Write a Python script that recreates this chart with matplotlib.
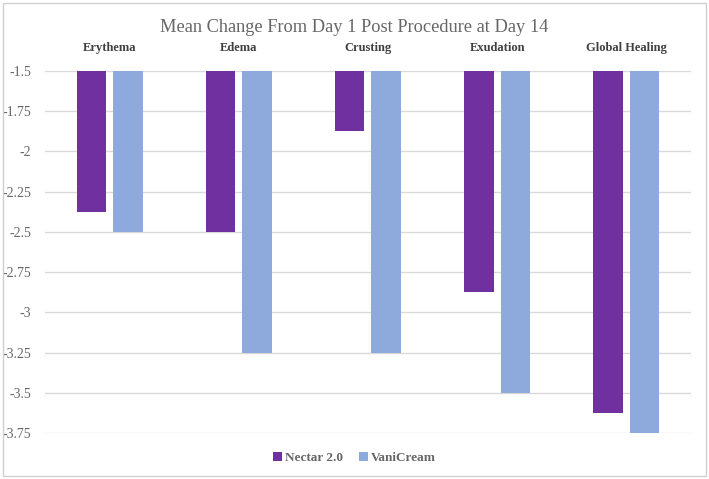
import matplotlib.pyplot as plt
import numpy as np
from matplotlib.patches import Rectangle

# data
categories = ['Erythema', 'Edema', 'Crusting', 'Exudation', 'Global Healing']
nectar = [-2.375, -2.5, -1.875, -2.875, -3.625]
vanicream = [-2.5, -3.25, -3.25, -3.5, -3.75]
yticks = [-1.5, -1.75, -2, -2.25, -2.5, -2.75, -3, -3.25, -3.5, -3.75]
ytick_labels = ['-1.5', '-1.75', '-2', '-2.25', '-2.5', '-2.75', '-3', '-3.25', '-3.5', '-3.75']

base = -1.5
purple = '#7030A0'
blue = '#8EA9DB'
grey = '#666666'

plt.rcParams['font.family'] = ['Liberation Serif', 'DejaVu Serif']

fig = plt.figure(figsize=(7.09, 4.79), dpi=100)
ax = fig.add_axes([0.0635, 0.096, 0.911, 0.756])

x = np.arange(len(categories))
w = 0.228
gap = 0.054
ax.bar(x - (w + gap) / 2, np.array(nectar) - base, bottom=base, width=w,
       color=purple, label='Nectar 2.0', zorder=3)
ax.bar(x + (w + gap) / 2, np.array(vanicream) - base, bottom=base, width=w,
       color=blue, label='VaniCream', zorder=3)

ax.set_xlim(-0.5, len(categories) - 0.5)
ax.set_ylim(-3.75, -1.5)
ax.set_yticks(yticks)
ax.set_yticklabels(ytick_labels, color=grey, fontsize=10)
ax.tick_params(axis='y', length=0, pad=10)

ax.xaxis.tick_top()
ax.set_xticks(x)
ax.set_xticklabels(categories, fontweight='bold', color='#404040', fontsize=9)
ax.tick_params(axis='x', length=0, pad=12)

ax.grid(axis='y', color='#D9D9D9', linewidth=1, zorder=0)
for s in ax.spines.values():
    s.set_visible(False)

fig.text(0.5, 0.943, 'Mean Change From Day 1 Post Procedure at Day 14',
         ha='center', va='center', fontsize=13.2, color=grey)

leg = fig.legend(loc='center', bbox_to_anchor=(0.5, 0.044), ncol=2, frameon=False,
                 handlelength=0.7, handleheight=0.7, handletextpad=0.2,
                 columnspacing=1.2, prop={'weight': 'bold', 'size': 9.5})
for t in leg.get_texts():
    t.set_color(grey)

# chart border
fig.patches.append(Rectangle((0.004, 0.006), 0.992, 0.988, transform=fig.transFigure,
                             fill=False, edgecolor='#D0D0D0', linewidth=1))

fig.savefig('out.png', dpi=100)
